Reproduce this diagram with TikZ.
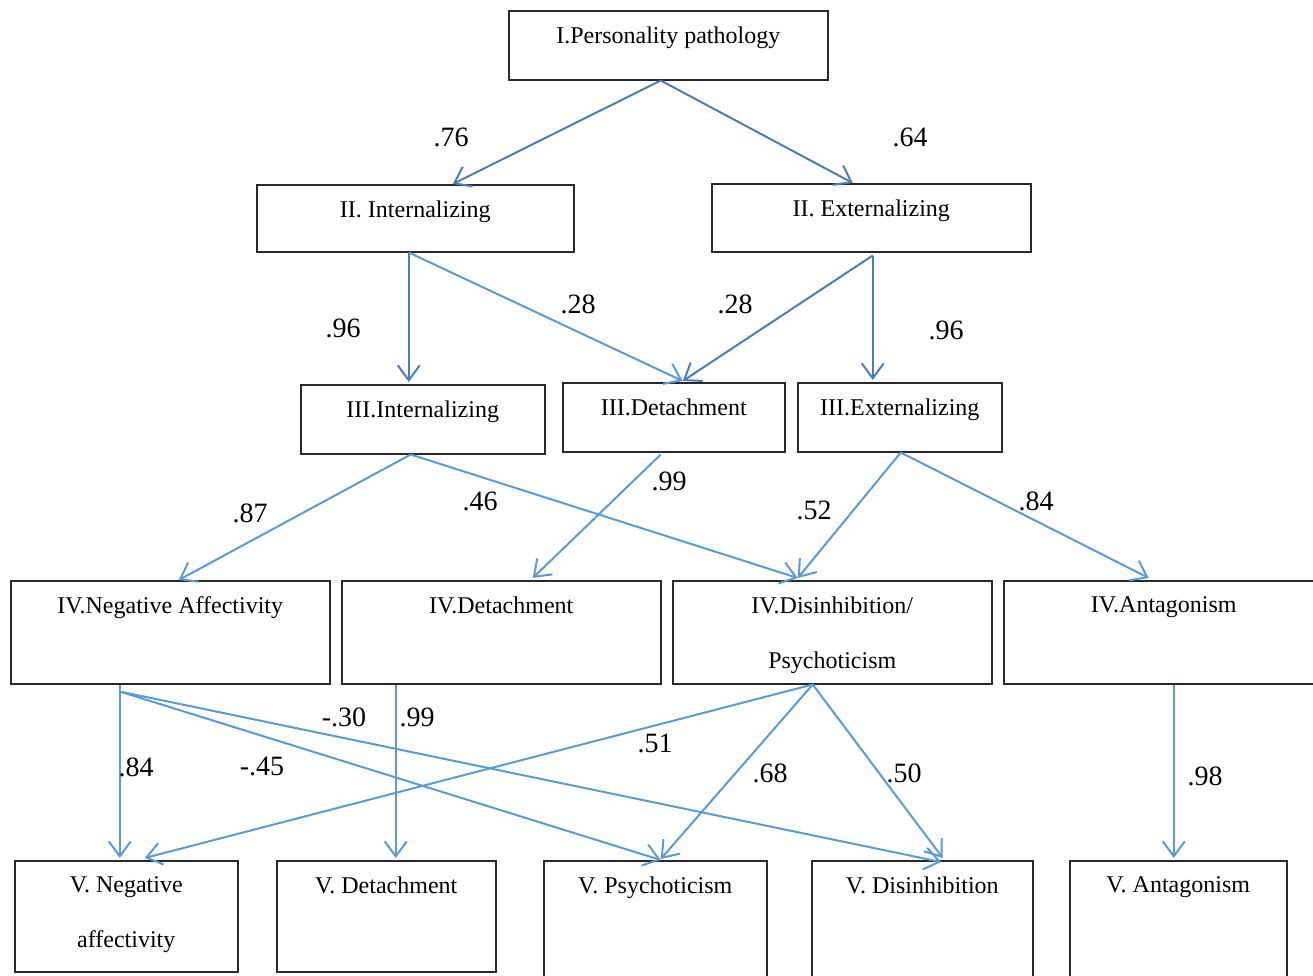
\documentclass[tikz,border=0pt]{standalone}
\usepackage{fontspec}
\setmainfont{Liberation Serif}
\usetikzlibrary{arrows.meta,calc}
\definecolor{darkarr}{RGB}{74,126,187}
\definecolor{lightarr}{RGB}{91,155,213}
\definecolor{boxline}{RGB}{40,40,40}
\begin{document}
\begin{tikzpicture}[x=1pt,y=-1pt,
  box/.style={draw=boxline, line width=1.5pt, rectangle, inner sep=0pt, anchor=north west},
  txt/.style={anchor=north, inner sep=0pt, yshift=-16.5pt, font=\fontsize{24pt}{55pt}\selectfont, align=center},
  num/.style={inner sep=0pt, font=\fontsize{28pt}{30pt}\selectfont},
  arr/.style={line width=2pt, -{Straight Barb[length=15pt,width=22pt]}},
  dk/.style={arr, draw=darkarr},
  lt/.style={arr, draw=lightarr}]
\useasboundingbox (0,0) rectangle (1313,975);
\fill[white] (0,0) rectangle (1313,975);
\clip (0,0) rectangle (1313,975);
% boxes
\node[box, minimum width=319pt, minimum height=69pt, label={[txt]north:I.Personality pathology}] (I) at (508,10) {};
\node[box, minimum width=317pt, minimum height=67pt, label={[txt]north:II. Internalizing}] (iiint) at (256,184) {};
\node[box, minimum width=319pt, minimum height=68pt, label={[txt]north:II. Externalizing}] (iiext) at (711,183) {};
\node[box, minimum width=244pt, minimum height=69pt, label={[txt]north:III.Internalizing}] (iiiint) at (300,384) {};
\node[box, minimum width=222pt, minimum height=69pt, label={[txt]north:III.Detachment}] (iiidet) at (562,382) {};
\node[box, minimum width=204pt, minimum height=69pt, label={[txt]north:III.Externalizing}] (iiiext) at (797,382) {};
\node[box, minimum width=319pt, minimum height=103pt, label={[txt]north:IV.Negative Affectivity}] (ivna) at (10,580) {};
\node[box, minimum width=319pt, minimum height=103pt, label={[txt]north:IV.Detachment}] (ivdet) at (341,580) {};
\node[box, minimum width=319pt, minimum height=103pt, label={[txt]north:IV.Disinhibition/\\Psychoticism}] (ivdis) at (672,580) {};
\node[box, minimum width=320pt, minimum height=103pt, label={[txt]north:IV.Antagonism}] (ivant) at (1003,580) {};
\node[box, minimum width=223pt, minimum height=111pt, label={[txt]north:V. Negative\\affectivity}] (vna) at (14,860) {};
\node[box, minimum width=219pt, minimum height=111pt, label={[txt]north:V. Detachment}] (vdet) at (276,860) {};
\node[box, minimum width=223pt, minimum height=125pt, label={[txt]north:V. Psychoticism}] (vpsy) at (543,860) {};
\node[box, minimum width=221pt, minimum height=125pt, label={[txt]north:V. Disinhibition}] (vdis) at (811,860) {};
\node[box, minimum width=217pt, minimum height=125pt, label={[txt]north:V. Antagonism}] (vant) at (1069,860) {};
% arrows level I -> II -> III
\draw[dk] ($(I.south)+(-7.5,0)$) -- ($(iiint.north)+(37.5,0)$);
\draw[dk] ($(I.south)+(-7.5,0)$) -- ($(iiext.north)+(-18.5,0)$);
\draw[dk] ($(iiint.south)+(-6.5,0)$) -- ($(iiiint.north)+(-14,-2)$);
\draw[lt] ($(iiint.south)+(-6.5,0)$) -- ($(iiidet.north)+(9,-1)$);
\draw[dk] ($(iiext.south)+(1.5,3)$) -- ($(iiidet.north)+(9,-1)$);
\draw[dk] ($(iiext.south)+(1.5,3)$) -- ($(iiiext.north)+(-27,-2)$);
% III -> IV
\draw[lt] ($(iiiint.south)+(-12,0)$) -- ($(ivna.north)+(8.5,0)$);
\draw[lt] ($(iiiint.south)+(-12,0)$) -- ($(ivdis.north)+(-34.5,-2)$);
\draw[lt] ($(iiidet.south)+(-13,2)$) -- ($(ivdet.north)+(31.5,-2)$);
\draw[lt] ($(iiiext.south)+(1,0)$) -- ($(ivdis.north)+(-34.5,-2)$);
\draw[lt] ($(iiiext.south)+(1,0)$) -- ($(ivant.north)+(-15,-2)$);
% IV -> V
\draw[lt] ($(ivna.south)+(-50.5,0)$) -- ($(vna.north)+(-6.5,-2)$);
\draw[lt] ($(ivna.south)+(-50.5,7)$) -- ($(vpsy.north)+(5.5,0)$);
\draw[lt] ($(ivna.south)+(-50.5,7)$) -- ($(vdis.north)+(19,2)$);
\draw[lt] ($(ivdet.south)+(-105.5,0)$) -- ($(vdet.north)+(9.5,-2)$);
\draw[lt] ($(ivdis.south)+(-19.5,0)$) -- ($(vna.north)+(18.5,-2)$);
\draw[lt] ($(ivdis.south)+(-19.5,0)$) -- ($(vpsy.north)+(5.5,-1)$);
\draw[lt] ($(ivdis.south)+(-19.5,0)$) -- ($(vdis.north)+(20.5,-2)$);
\draw[lt] ($(ivant.south)+(10,0)$) -- ($(vant.north)+(-4.5,-2)$);
% coefficients
\node[num] (n1) at (451,137) {.76};
\node[num] (n2) at (910,137) {.64};
\node[num] (n3) at (343,328) {.96};
\node[num] (n4) at (578,304) {.28};
\node[num] (n5) at (735,304) {.28};
\node[num] (n6) at (946,330) {.96};
\node[num] (n7) at (250,513) {.87};
\node[num] (n8) at (480,501) {.46};
\node[num] (n9) at (669,481) {.99};
\node[num] (n10) at (814,510) {.52};
\node[num] (n11) at (1036,501) {.84};
\node[num] (n12) at (136,767) {.84};
\node[num] (n13) at (262,766) {-.45};
\node[num] (n14) at (344,717) {-.30};
\node[num] (n15) at (417,717) {.99};
\node[num] (n16) at (655,743) {.51};
\node[num] (n17) at (770,773) {.68};
\node[num] (n18) at (904,773) {.50};
\node[num] (n19) at (1205,776) {.98};
\end{tikzpicture}
\end{document}
